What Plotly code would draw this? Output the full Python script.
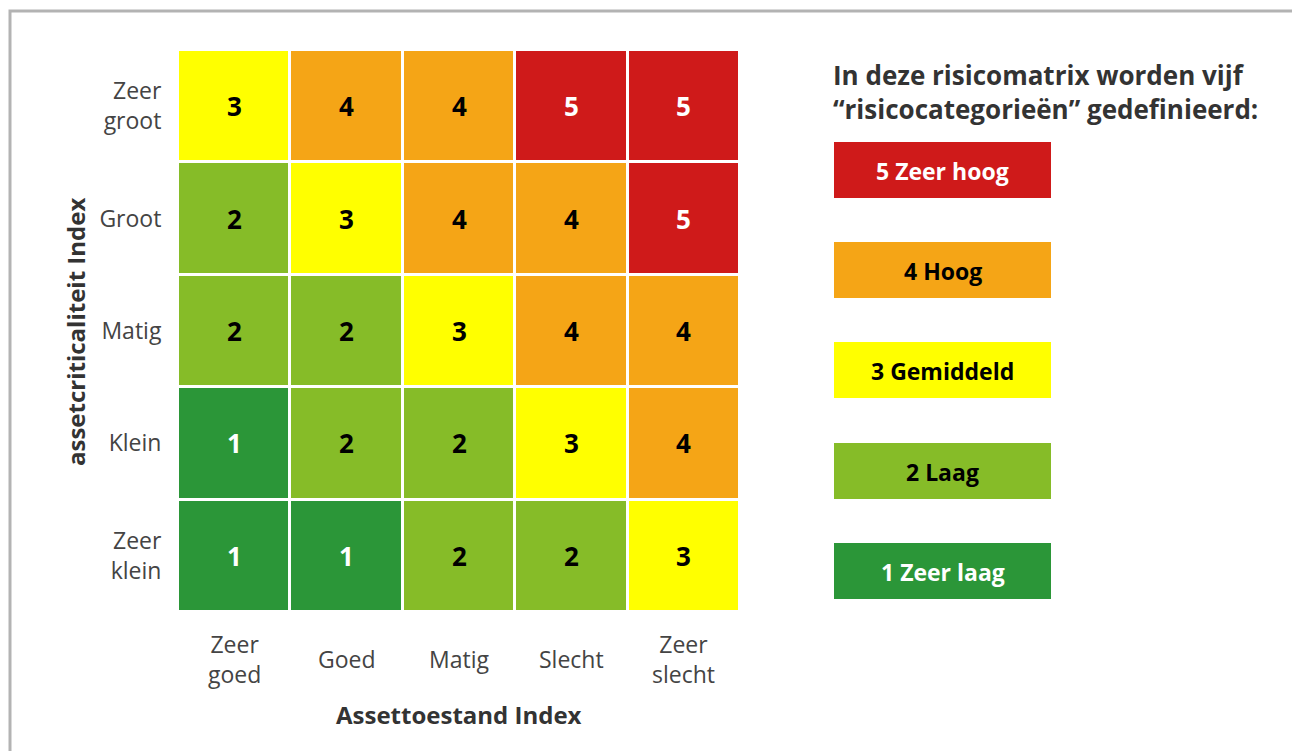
import plotly.graph_objects as go

# ---- data ----
condition_labels = ["Zeer<br>goed", "Goed", "Matig", "Slecht", "Zeer<br>slecht"]
criticality_labels = ["Zeer<br>klein", "Klein", "Matig", "Groot", "Zeer<br>groot"]
risk_matrix = [
    [1, 1, 2, 2, 3],   # Zeer klein
    [1, 2, 2, 3, 4],   # Klein
    [2, 2, 3, 4, 4],   # Matig
    [2, 3, 4, 4, 5],   # Groot
    [3, 4, 4, 5, 5],   # Zeer groot
]
category_levels = [5, 4, 3, 2, 1]
category_names = ["5 Zeer hoog", "4 Hoog", "3 Gemiddeld", "2 Laag", "1 Zeer laag"]
category_colors = {1: "#2b9638", 2: "#86bc28", 3: "#ffff00", 4: "#f5a516", 5: "#cf1a1a"}
white_text_levels = {1, 5}

OFF = 8  # page body margin
W, H = 1300, 751
L, R, T, B = 178 - OFF, 740 - OFF, 50 - OFF, 612 - OFF
pw, ph = R - L, B - T

def px(x):
    return (x - OFF - L) / pw

def py(y):
    return (B - (y - OFF)) / ph

FONT = "Open Sans"

# discrete colorscale
cs = []
for i, lvl in enumerate([1, 2, 3, 4, 5]):
    cs.append([i / 5, category_colors[lvl]])
    cs.append([(i + 1) / 5, category_colors[lvl]])

fig = go.Figure()
fig.add_trace(go.Heatmap(
    z=risk_matrix, x=list(range(5)), y=list(range(5)),
    colorscale=cs, zmin=0.5, zmax=5.5, showscale=False,
    xgap=3, ygap=3, hoverinfo="skip",
))

annotations = []
for r, row in enumerate(risk_matrix):
    for c, v in enumerate(row):
        annotations.append(dict(
            x=c, y=r, xref="x", yref="y", text=f"<b>{v}</b>", showarrow=False,
            xanchor="center", yanchor="middle",
            font=dict(family=FONT, size=26, color="white" if v in white_text_levels else "black"),
        ))

# x tick labels, vertically centred like the reference
for i, lab in enumerate(condition_labels):
    annotations.append(dict(
        x=i, y=py(659), xref="x", yref="paper", text=lab, showarrow=False,
        xanchor="center", yanchor="middle",
        font=dict(family=FONT, size=23, color="#444444"),
    ))

shapes = []
# outer grey frame
shapes.append(dict(type="rect", xref="paper", yref="paper",
                   x0=px(10), x1=px(1294), y0=py(780), y1=py(11),
                   line=dict(color="#b3b3b3", width=3), fillcolor="rgba(0,0,0,0)", layer="below"))

# legend boxes
box_tops = [142, 242, 342, 443, 543]
for lvl, name, top in zip(category_levels, category_names, box_tops):
    shapes.append(dict(type="rect", xref="paper", yref="paper",
                       x0=px(834), x1=px(1051), y0=py(top + 56), y1=py(top),
                       line=dict(width=0), fillcolor=category_colors[lvl]))
    annotations.append(dict(
        x=px(942.5), y=py(top + 29), xref="paper", yref="paper", showarrow=False,
        xanchor="center", yanchor="middle",
        text=f"<b>{name}</b>",
        font=dict(family=FONT, size=23, color="white" if lvl in white_text_levels else "black"),
    ))

annotations.append(dict(
    x=px(831), y=py(55), xref="paper", yref="paper", xanchor="left", yanchor="top",
    align="left", showarrow=False,
    text="<b>In deze risicomatrix worden vijf<br>“risicocategorieën” gedefinieerd:</b>",
    font=dict(family=FONT, size=26, color="#333333"),
))

# axis titles
annotations.append(dict(
    x=px(459), y=py(714), xref="paper", yref="paper", showarrow=False,
    xanchor="center", yanchor="middle",
    text="<b>Assettoestand Index</b>", font=dict(family=FONT, size=24, color="#333333"),
))
annotations.append(dict(
    x=px(75), y=py(332), xref="paper", yref="paper", showarrow=False, textangle=-90,
    xanchor="center", yanchor="middle",
    text="<b>assetcriticaliteit Index</b>", font=dict(family=FONT, size=24, color="#333333"),
))

fig.update_layout(
    width=W, height=H,
    margin=dict(l=L, r=W - R, t=T, b=H - B, pad=0),
    paper_bgcolor="white", plot_bgcolor="white",
    shapes=shapes, annotations=annotations,
    font=dict(family=FONT, color="#444444"),
    xaxis=dict(tickmode="array", tickvals=list(range(5)), showticklabels=False,
               range=[-0.5, 4.5], showgrid=False, zeroline=False, showline=False,
               ticks="", fixedrange=True),
    yaxis=dict(tickmode="array", tickvals=list(range(5)), ticktext=criticality_labels,
               range=[-0.5, 4.5], showgrid=False, zeroline=False, showline=False,
               ticks="outside", ticklen=11, tickcolor="rgba(0,0,0,0)",
               tickfont=dict(family=FONT, size=23, color="#444444"), fixedrange=True),
)

fig.write_html("out.html")
